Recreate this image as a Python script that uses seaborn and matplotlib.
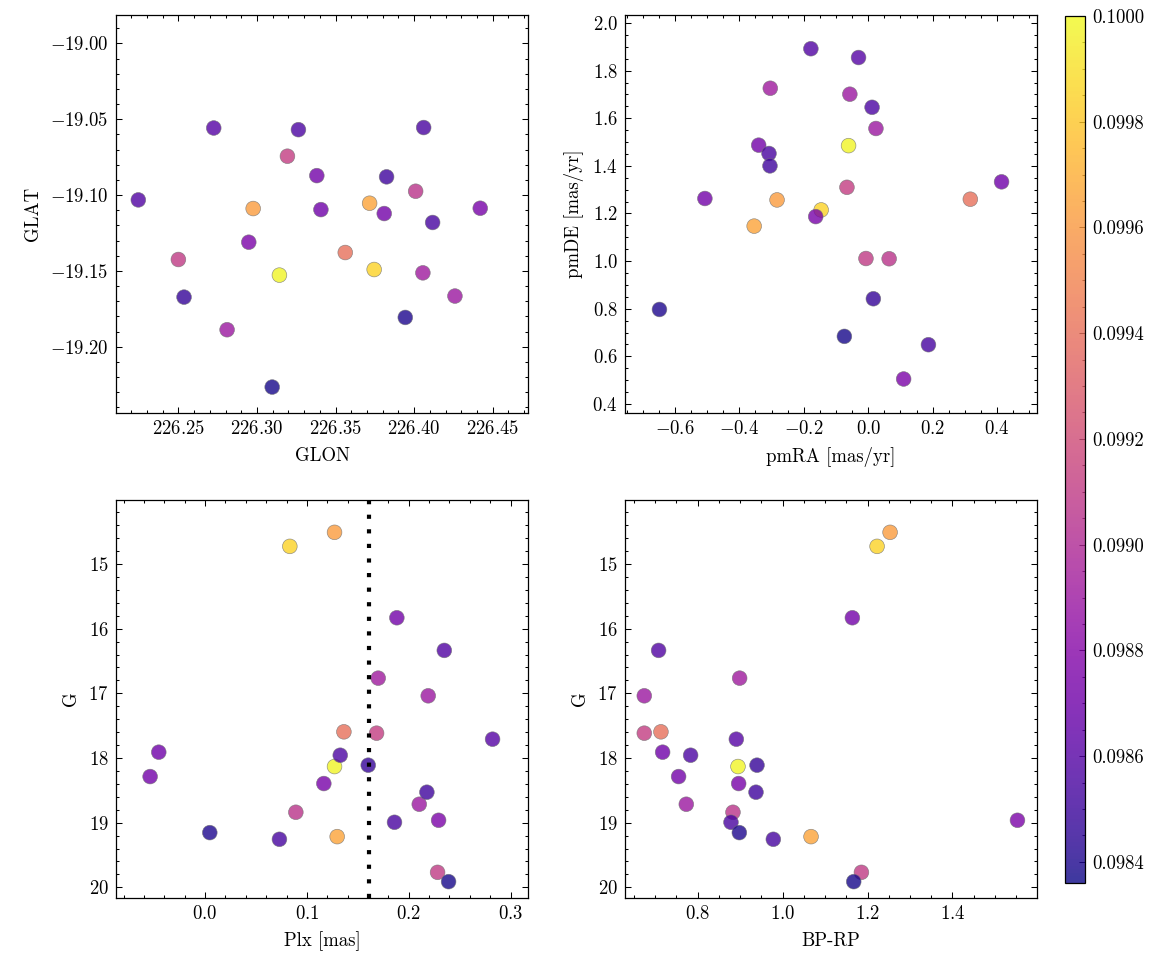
import numpy as np
import pandas as pd
import matplotlib
matplotlib.use("Agg")
import matplotlib.pyplot as plt
import seaborn as sns
from matplotlib.colors import Normalize
from matplotlib.cm import ScalarMappable
from matplotlib.ticker import AutoMinorLocator, FormatStrFormatter

# ---- data (25 stars) ----
glon = [226.3143, 226.3746, 226.2976, 226.3717, 226.3562, 226.3194, 226.2500, 226.4010,
        226.4056, 226.4260, 226.2810, 226.3381, 226.3407, 226.3810, 226.4421, 226.2948,
        226.2245, 226.2725, 226.3264, 226.4061, 226.3825, 226.4118, 226.2536, 226.3944,
        226.3097]
glat = [-19.1528, -19.1491, -19.1089, -19.1054, -19.1379, -19.0744, -19.1425, -19.0975,
        -19.1513, -19.1666, -19.1888, -19.0872, -19.1096, -19.1122, -19.1087, -19.1311,
        -19.1032, -19.0558, -19.0569, -19.0555, -19.0880, -19.1181, -19.1673, -19.1807,
        -19.2266]
pmra = [-0.061, -0.146, -0.283, -0.354, 0.317, -0.066, -0.007, 0.065,
        -0.304, -0.057, 0.024, -0.340, 0.414, -0.507, -0.163, 0.110,
        -0.178, -0.030, 0.012, -0.308, -0.305, 0.187, 0.016, -0.648,
        -0.074]
pmde = [1.485, 1.215, 1.257, 1.147, 1.260, 1.310, 1.011, 1.010,
        1.726, 1.701, 1.557, 1.487, 1.333, 1.263, 1.187, 0.505,
        1.892, 1.855, 1.646, 1.452, 1.400, 0.649, 0.842, 0.797,
        0.684]
plx = [0.1271, 0.0832, 0.1271, 0.1297, 0.1363, 0.1684, 0.2283, 0.0891,
       0.1700, 0.2191, 0.2103, 0.1883, -0.0455, -0.0540, 0.1166, 0.2293,
       0.2349, 0.2823, 0.1327, 0.1860, 0.2178, 0.0730, 0.1602, 0.0046,
       0.2391]
gmag = [18.132, 14.727, 14.510, 19.216, 17.595, 17.616, 19.768, 18.839,
        16.765, 17.038, 18.715, 15.831, 17.910, 18.287, 18.395, 18.963,
        16.336, 17.709, 17.957, 18.994, 18.529, 19.257, 18.111, 19.154,
        19.912]
bprp = [0.8950, 1.2225, 1.2531, 1.0670, 0.7136, 0.6744, 1.1856, 0.8832,
        0.8989, 0.6744, 0.7733, 1.1643, 0.7176, 0.7552, 0.8966, 1.5530,
        0.7081, 0.8911, 0.7835, 0.8785, 0.9374, 0.9782, 0.9398, 0.8982,
        1.1675]
prob = [0.09998, 0.09985, 0.09962, 0.09966, 0.09940, 0.09912, 0.09910, 0.09906,
        0.09892, 0.09890, 0.09890, 0.09872, 0.09870, 0.09872, 0.09874, 0.09876,
        0.09858, 0.09860, 0.09856, 0.09855, 0.09852, 0.09854, 0.09848, 0.09840,
        0.09838]
plx_ref = 0.161
cbar_ticks = [0.0984, 0.0986, 0.0988, 0.0990, 0.0992, 0.0994, 0.0996, 0.0998, 0.1000]

df = pd.DataFrame(dict(GLON=glon, GLAT=glat, pmRA=pmra, pmDE=pmde,
                       Plx=plx, G=gmag, BPRP=bprp, prob=prob))

sns.set_style("ticks")
plt.rcParams.update({
    "font.family": "cmr10",
    "mathtext.fontset": "cm",
    "axes.formatter.use_mathtext": True,
    "font.size": 9,
    "axes.labelsize": 9,
    "xtick.labelsize": 9,
    "ytick.labelsize": 9,
    "text.color": "black",
    "axes.labelcolor": "black",
    "xtick.direction": "in",
    "ytick.direction": "in",
    "xtick.top": True,
    "ytick.right": True,
    "xtick.minor.visible": True,
    "ytick.minor.visible": True,
    "xtick.major.size": 3,
    "ytick.major.size": 3,
    "xtick.minor.size": 1.5,
    "ytick.minor.size": 1.5,
    "xtick.major.width": 0.5,
    "ytick.major.width": 0.5,
    "xtick.minor.width": 0.5,
    "ytick.minor.width": 0.5,
    "axes.linewidth": 0.6,
    "axes.edgecolor": "black",
    "xtick.color": "black",
    "ytick.color": "black",
    "xtick.labelcolor": "black",
    "ytick.labelcolor": "black",
})

W, H = 1166, 965
fig = plt.figure(figsize=(W / 150, H / 150), dpi=150)

def pos(x0, y0, x1, y1):
    return [x0 / W, 1 - y1 / H, (x1 - x0) / W, (y1 - y0) / H]

ax_tl = fig.add_axes(pos(116, 15, 528, 413))
ax_tr = fig.add_axes(pos(625, 15, 1037, 413))
ax_bl = fig.add_axes(pos(116, 500, 528, 898))
ax_br = fig.add_axes(pos(625, 500, 1037, 898))
cax = fig.add_axes(pos(1065, 16, 1085, 883))

vmin, vmax = 0.09836, 0.1000
norm = Normalize(vmin=vmin, vmax=vmax)

panels = [
    (ax_tl, "GLON", "GLAT", "GLON", "GLAT", (226.2103, 226.4725), (-19.2437, -18.9813)),
    (ax_tr, "pmRA", "pmDE", "pmRA [mas/yr]", "pmDE [mas/yr]", (-0.755, 0.524), (0.3622, 2.0336)),
    (ax_bl, "Plx", "G", "Plx [mas]", "G", (-0.0875, 0.3171), (20.165, 14.01)),
    (ax_br, "BPRP", "G", "BP-RP", "G", (0.629, 1.599), (20.165, 14.01)),
]

for ax, xc, yc, xl, yl, xlim, ylim in panels:
    sns.scatterplot(data=df, x=xc, y=yc, hue="prob", palette="plasma",
                    hue_norm=norm, s=50, alpha=0.8, edgecolor="0.45",
                    linewidth=0.3, legend=False, ax=ax)
    ax.set_xlim(*xlim)
    ax.set_ylim(*ylim)
    ax.set_xlabel(xl, color="black")
    ax.set_ylabel(yl, color="black")
    ax.xaxis.set_minor_locator(AutoMinorLocator())
    ax.yaxis.set_minor_locator(AutoMinorLocator())
    ax.tick_params(which="both", direction="in", top=True, right=True,
                   colors="black")

ax_bl.axvline(plx_ref, color="black", linewidth=2.0, linestyle=(0, (1, 2.5)), zorder=5)

sm = ScalarMappable(norm=norm, cmap="plasma")
cb = fig.colorbar(sm, cax=cax, alpha=0.8)
cb.set_ticks(cbar_ticks)
cb.ax.yaxis.set_major_formatter(FormatStrFormatter("%.4f"))
cb.ax.yaxis.set_minor_locator(AutoMinorLocator(4))
cb.ax.tick_params(which="both", direction="in", right=True, colors="black")
cb.outline.set_linewidth(0.6)

fig.savefig("out.png", dpi=150)
